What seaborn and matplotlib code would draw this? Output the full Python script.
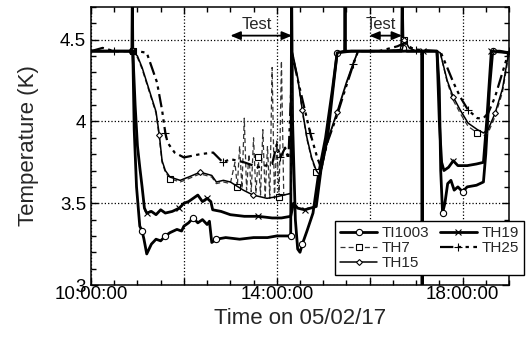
import pandas as pd
import matplotlib
matplotlib.use('Agg')
import matplotlib.pyplot as plt
import matplotlib.dates as mdates
import matplotlib.ticker as mticker
import seaborn as sns

# ----------------------------------------------------
# Data (time in hours on 05/02/17, temperature in K)
# ----------------------------------------------------
TI1003_h = [10.0, 10.5, 10.88, 10.89, 10.9, 10.93, 10.98, 11.05, 11.1, 11.14,
            11.2, 11.3, 11.4, 11.5, 11.6, 11.7, 11.85, 11.95, 12.0, 12.1,
            12.2, 12.3, 12.4, 12.5, 12.55, 12.6, 12.7, 12.9, 13.2, 13.5,
            13.8, 14.0, 14.3, 14.32, 14.34, 14.4, 14.45, 14.5, 14.55, 14.65,
            14.78, 14.9, 15.05, 15.2, 15.3, 15.6, 16.0, 16.4, 16.69, 16.7,
            16.72, 16.8, 17.1, 17.45, 17.5, 17.53, 17.57, 17.62, 17.68, 17.75,
            17.82, 17.9, 18.0, 18.1, 18.3, 18.45, 18.5, 18.58, 18.65, 18.8,
            19.0]
TI1003_T = [4.43, 4.43, 4.43, 4.8, 4.43, 3.95, 3.6, 3.36, 3.33, 3.28,
            3.19, 3.25, 3.28, 3.27, 3.3, 3.32, 3.34, 3.33, 3.36, 3.38,
            3.41, 3.38, 3.4, 3.37, 3.39, 3.26, 3.28, 3.29, 3.28, 3.29,
            3.29, 3.3, 3.3, 4.8, 4.0, 3.4, 3.22, 3.2, 3.25, 3.33,
            3.44, 3.68, 3.9, 4.2, 4.42, 4.43, 4.43, 4.43, 4.43, 4.8,
            4.45, 4.43, 4.43, 4.43, 4.2, 3.7, 3.44, 3.5, 3.62, 3.64,
            3.58, 3.6, 3.57, 3.6, 3.61, 3.63, 3.8, 4.2, 4.43, 4.43,
            4.42]

TH7_h = [10.0, 10.5, 10.9, 11.0, 11.1, 11.2, 11.3, 11.4, 11.47, 11.53,
         11.6, 11.7, 11.92, 12.1, 12.35, 12.6, 12.7, 12.85, 13.0, 13.1,
         13.15, 13.2, 13.25, 13.3, 13.35, 13.4, 13.45, 13.5, 13.55, 13.6,
         13.65, 13.7, 13.75, 13.8, 13.85, 13.9, 13.95, 14.0, 14.05, 14.1,
         14.15, 14.3, 14.34, 14.45, 14.55, 14.65, 14.75, 14.85, 14.93, 15.1,
         15.3, 15.5, 15.65, 15.75, 16.2, 16.7, 16.75, 16.85, 17.0, 17.45,
         17.52, 17.67, 17.8, 17.95, 18.12, 18.32, 18.45, 18.55, 18.7, 18.86,
         18.95, 19.0]
TH7_T = [4.43, 4.43, 4.43, 4.39, 4.32, 4.23, 4.14, 4.05, 3.9, 3.75,
         3.69, 3.65, 3.63, 3.65, 3.68, 3.66, 3.62, 3.63, 3.62, 3.75,
         3.6, 3.85, 3.59, 4.02, 3.58, 3.8, 3.57, 3.9, 3.56, 3.78,
         3.55, 3.95, 3.54, 3.85, 3.53, 4.33, 3.53, 3.88, 3.54, 4.37,
         3.55, 3.56, 4.41, 4.26, 4.06, 3.89, 3.77, 3.69, 3.66, 3.88,
         4.05, 4.23, 4.35, 4.43, 4.43, 4.44, 4.5, 4.45, 4.43, 4.43,
         4.42, 4.24, 4.13, 4.05, 3.97, 3.93, 3.91, 3.93, 4.03, 4.18,
         4.33, 4.43]

TH15_h = [10.0, 10.5, 10.9, 11.0, 11.1, 11.2, 11.3, 11.4, 11.47, 11.53,
          11.6, 11.7, 11.92, 12.1, 12.35, 12.6, 12.7, 12.85, 13.0, 13.28,
          13.49, 13.79, 14.0, 14.3, 14.34, 14.45, 14.55, 14.65, 14.75, 14.85,
          14.93, 15.1, 15.3, 15.5, 15.65, 15.75, 16.2, 16.7, 16.75, 16.85,
          17.0, 17.45, 17.52, 17.67, 17.8, 17.95, 18.12, 18.32, 18.45, 18.55,
          18.7, 18.86, 18.95, 19.0]
TH15_T = [4.43, 4.43, 4.43, 4.4, 4.33, 4.24, 4.15, 4.06, 3.92, 3.76,
          3.7, 3.66, 3.64, 3.66, 3.69, 3.67, 3.63, 3.64, 3.63, 3.58,
          3.55, 3.53, 3.54, 3.56, 4.42, 4.27, 4.07, 3.9, 3.78, 3.7,
          3.67, 3.89, 4.06, 4.24, 4.36, 4.43, 4.43, 4.44, 4.5, 4.45,
          4.43, 4.43, 4.42, 4.25, 4.15, 4.07, 3.99, 3.95, 3.93, 3.95,
          4.05, 4.2, 4.35, 4.43]

TH19_h = [10.0, 10.5, 10.9, 10.95, 11.0, 11.05, 11.1, 11.15, 11.2, 11.3,
          11.4, 11.5, 11.6, 11.75, 11.9, 12.0, 12.1, 12.2, 12.3, 12.4,
          12.5, 12.58, 12.62, 12.8, 13.0, 13.3, 13.6, 13.9, 14.1, 14.3,
          14.36, 14.45, 14.6, 14.85, 14.95, 15.1, 15.3, 15.46, 15.47, 15.48,
          16.0, 16.5, 17.12, 17.13, 17.14, 17.45, 17.5, 17.55, 17.6, 17.7,
          17.8, 17.9, 18.1, 18.3, 18.45, 18.52, 18.62, 19.0]
TH19_T = [4.43, 4.43, 4.43, 4.1, 3.85, 3.72, 3.6, 3.47, 3.44, 3.45,
          3.43, 3.46, 3.44, 3.45, 3.47, 3.5, 3.51, 3.53, 3.55, 3.51,
          3.53, 3.51, 3.46, 3.45, 3.43, 3.42, 3.42, 3.41, 3.41, 3.42,
          3.5, 3.47, 3.46, 3.48, 3.7, 3.92, 4.42, 4.43, 4.8, 4.43,
          4.43, 4.43, 4.43, 2.5, 4.43, 4.43, 4.0, 3.75, 3.7, 3.72,
          3.76, 3.73, 3.73, 3.74, 3.75, 4.0, 4.43, 4.42]

TH25_h = [10.0, 10.25, 10.5, 10.9, 11.0, 11.2, 11.42, 11.53, 11.6, 11.65,
          11.8, 12.0, 12.35, 12.63, 12.84, 13.0, 13.3, 13.6, 13.9, 14.0,
          14.08, 14.18, 14.25, 14.34, 14.44, 14.58, 14.72, 14.87, 14.95, 15.1,
          15.3, 15.5, 15.65, 15.75, 16.2, 16.6, 16.75, 16.9, 17.0, 17.45,
          17.52, 17.67, 17.8, 17.95, 18.12, 18.32, 18.45, 18.55, 18.7, 18.86,
          19.0]
TH25_T = [4.43, 4.45, 4.43, 4.43, 4.43, 4.42, 4.24, 4.07, 3.93, 3.87,
          3.81, 3.78, 3.8, 3.81, 3.75, 3.77, 3.75, 3.72, 3.74, 3.86,
          3.78, 3.84, 3.77, 4.4, 4.27, 4.1, 3.93, 3.78, 3.72, 3.88,
          4.04, 4.22, 4.35, 4.43, 4.43, 4.46, 4.48, 4.45, 4.44, 4.43,
          4.43, 4.33, 4.24, 4.15, 4.07, 4.02, 4.02, 4.05, 4.15, 4.3,
          4.43]

test_windows = [(13.0, 14.33), (15.99, 16.70)]   # start/end of each "Test" arrow (hours)

base = pd.Timestamp('2017-05-02')

def to_time(hours):
    return base + pd.to_timedelta(pd.Series(hours), unit='h')

# ----------------------------------------------------
# Plot
# ----------------------------------------------------
sns.set_style('ticks')
plt.rcParams['font.family'] = ['Liberation Sans', 'DejaVu Sans']

fig = plt.figure(figsize=(5.27, 3.37), dpi=100)
ax = fig.add_axes([0.1727, 0.1543, 0.7931, 0.8249])

series = [
    ('TI1003', TI1003_h, TI1003_T, 6, dict(linewidth=2.0, linestyle='-', marker='o', markersize=4.5,
                                           color='black', markerfacecolor='white')),
    ('TH7', TH7_h, TH7_T, 9, dict(linewidth=0.9, linestyle=(0, (4, 2.5)), marker='s', markersize=4,
                                  color='#333333', markerfacecolor='white')),
    ('TH15', TH15_h, TH15_T, 6, dict(linewidth=1.1, linestyle='-', marker='D', markersize=3,
                                     color='black', markerfacecolor='white')),
    ('TH19', TH19_h, TH19_T, 6, dict(linewidth=2.0, linestyle='-', marker='x', markersize=4.5,
                                     color='black')),
    ('TH25', TH25_h, TH25_T, 6, dict(linewidth=1.6, linestyle=(0, (6, 2, 1.5, 2, 1.5, 2)), marker='+',
                                     markersize=6, color='black')),
]

for name, hrs, temps, every, kw in series:
    sns.lineplot(x=to_time(hrs), y=temps, ax=ax, sort=False, estimator=None,
                 label=name, markevery=(2, every), markeredgecolor='black', markeredgewidth=0.8, **kw)

ax.set_xlim(base + pd.Timedelta(hours=10), base + pd.Timedelta(hours=19))
ax.set_ylim(3, 4.7)

# x ticks: major every 2 h (labels on 10, 14, 18), minor every 30 min
ax.xaxis.set_major_locator(mdates.HourLocator(byhour=range(0, 24, 2)))
ax.xaxis.set_minor_locator(mdates.MinuteLocator(byminute=[0, 30]))

def hour_fmt(x, pos):
    d = mdates.num2date(x)
    return d.strftime('%H:%M:%S') if d.hour in (10, 14, 18) else ''

ax.xaxis.set_major_formatter(mticker.FuncFormatter(hour_fmt))
ax.yaxis.set_major_locator(mticker.MultipleLocator(0.5))
ax.yaxis.set_minor_locator(mticker.MultipleLocator(0.1))
ax.yaxis.set_major_formatter(mticker.FormatStrFormatter('%g'))

ax.tick_params(which='both', direction='in', top=True, right=True, colors='black', labelsize=13.5)
ax.tick_params(which='major', length=5, width=1)
ax.tick_params(which='minor', length=3.5, width=1)
ax.tick_params(axis='x', pad=1)
ax.grid(which='major', ls=':', color='black', lw=0.9)
for sp in ax.spines.values():
    sp.set_color('black')
    sp.set_linewidth(1.1)

ax.set_xlabel('Time on 05/02/17', fontsize=16, labelpad=3)
ax.set_ylabel('Temperature (K)', fontsize=16, labelpad=15)

# "Test" arrows
for t0, t1 in test_windows:
    ax.annotate('', xy=(base + pd.Timedelta(hours=t1), 4.525), xytext=(base + pd.Timedelta(hours=t0), 4.525),
                arrowprops=dict(arrowstyle='<|-|>,head_length=0.6,head_width=0.25', color='black', lw=1.3,
                                shrinkA=0, shrinkB=0))
    ax.text(base + pd.Timedelta(hours=(t0 + t1) / 2 - 0.1), 4.545, 'Test', ha='center', va='bottom', fontsize=12)

leg = ax.legend(ncol=2, loc='lower left', bbox_to_anchor=(0.584, 0.035), borderaxespad=0,
                fontsize=11, frameon=True, fancybox=False, edgecolor='black', framealpha=1,
                handlelength=2.4, handletextpad=0.3, columnspacing=0.7, labelspacing=0.05,
                borderpad=0.35)
leg.get_frame().set_linewidth(1.0)

fig.savefig('out.png', dpi=100)
